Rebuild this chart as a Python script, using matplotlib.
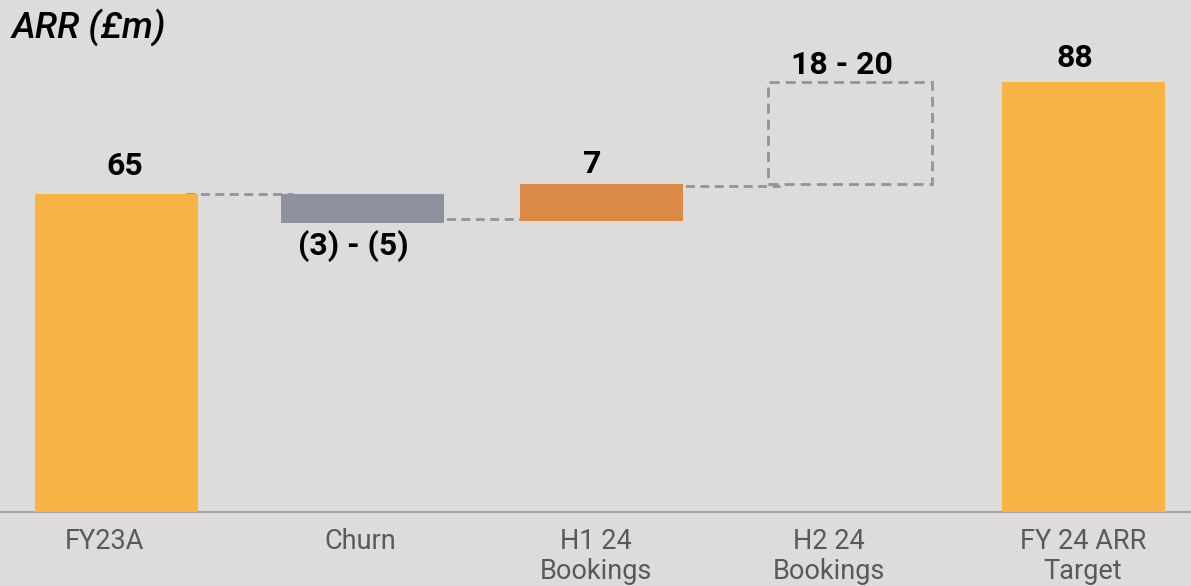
import matplotlib.pyplot as plt

# Waterfall data (£m)
categories = ['FY23A', 'Churn', 'H1 24\nBookings', 'H2 24\nBookings', 'FY 24 ARR\nTarget']
bottoms = [0, 59, 59.5, 67, 0]
tops = [65, 65, 67, 88, 88]
value_labels = ['65', '(3) - (5)', '7', '18 - 20', '88']
connector_levels = [65, 60, 66.7]

# layout tweaks (slide placement is not perfectly regular)
bar_shift = [0, 0.017, 0.004, 0.031, -0.004]
label_shift = [0.035, -0.04, -0.039, -0.033, -0.035]
label_gap = [3.9, 1.4, 2.3, 1.6, 3.1]
tick_shift = [-0.048, -0.011, -0.023, -0.086, -0.002]

bg = '#dddcdb'
bar_colors = ['#f8b345', '#8e919e', '#db8a45', 'none', '#f8b345']
dash_grey = '#9193a1'

plt.rcParams['font.family'] = ['Roboto', 'DejaVu Sans']

fig = plt.figure(figsize=(11.91, 5.86), dpi=100, facecolor=bg)
ax = fig.add_axes([0, 0, 1, 1])
ax.set_facecolor(bg)

x = [i + s for i, s in enumerate(bar_shift)]
w = 0.675

heights = [t - b for t, b in zip(tops, bottoms)]
for i in range(len(categories)):
    if i == 3:
        # projected range shown as dashed box
        ax.bar(x[i], heights[i], bottom=bottoms[i], width=w, fill=False,
               edgecolor=dash_grey, linewidth=2.0, linestyle=(0, (3.6, 2.2)), zorder=3)
    else:
        ax.bar(x[i], heights[i], bottom=bottoms[i], width=w, color=bar_colors[i], zorder=3)

# dashed connectors between steps
for i, lvl in enumerate(connector_levels):
    ax.plot([x[i] + w / 2 - 0.05, x[i + 1] - w / 2 + 0.05], [lvl, lvl], color=dash_grey,
            lw=2.0, linestyle=(0, (3.2, 2.0)), zorder=2)

ax.axhline(0, color='#a7a6b0', lw=1.5, zorder=1)

# value labels
for i in range(len(categories)):
    lx = i + label_shift[i] + bar_shift[i]
    if i == 1:
        ax.text(lx, bottoms[i] - label_gap[i], value_labels[i], ha='center', va='top',
                fontsize=23, fontweight='bold', color='black')
    else:
        ax.text(lx, tops[i] + label_gap[i], value_labels[i], ha='center', va='baseline',
                fontsize=23, fontweight='bold', color='black')

# category labels
for i in range(len(categories)):
    ax.text(i + tick_shift[i] + bar_shift[i], -3.2, categories[i], ha='center', va='top',
            fontsize=19.5, color='#595959', linespacing=1.16)

fig.text(0.010, 0.954, 'ARR (£m)', fontsize=26.5, fontstyle='italic', fontweight='medium',
         va='center', ha='left')

ax.set_xlim(-0.481, 4.44)
ax.set_ylim(-15.13, 104.7)
ax.axis('off')

fig.savefig('out.png', dpi=100, facecolor=bg)
